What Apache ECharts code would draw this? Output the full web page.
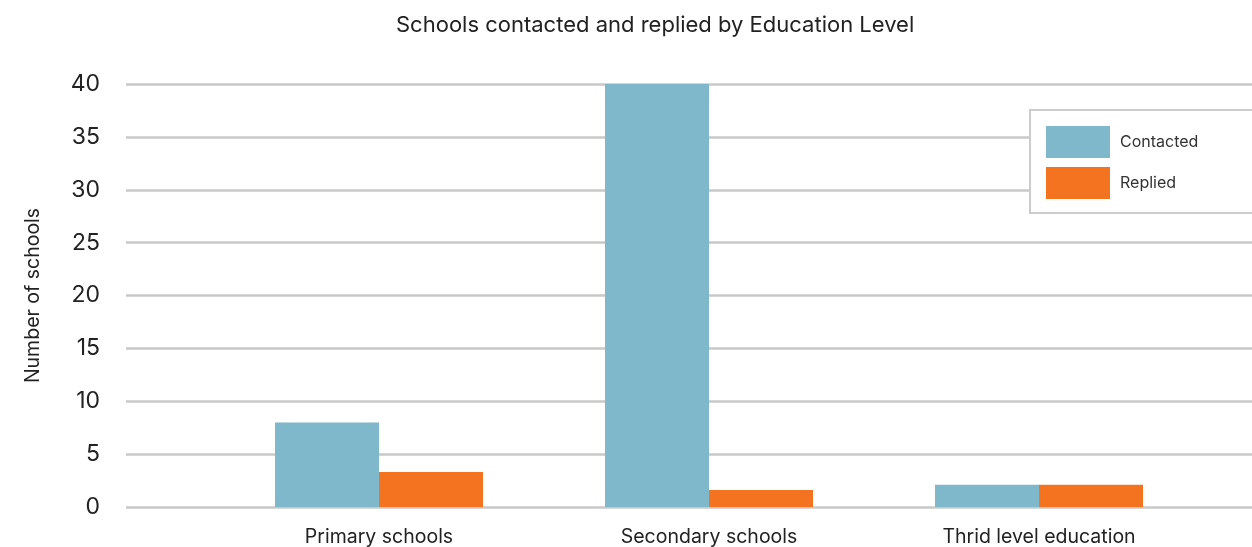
<!DOCTYPE html>
<html>
<head>
<meta charset="utf-8">
<script src="https://cdn.jsdelivr.net/npm/echarts@6/dist/echarts.min.js"></script>
<style>
  html, body { margin: 0; padding: 0; background: #fff; }
  #chart { width: 1252px; height: 547px; }
</style>
</head>
<body>
<div id="chart"></div>
<script>
const categories = ['Primary schools', 'Secondary schools', 'Thrid level education'];
const contacted = [8, 40, 2.1];
const replied = [3.3, 1.6, 2.1];
const seriesNames = ['Contacted', 'Replied'];
const yTicks = { min: 0, max: 40, interval: 5 };

const FONT = 'Inter, "Noto Sans", sans-serif';
const chart = echarts.init(document.getElementById('chart'));

chart.setOption({
  backgroundColor: '#fff',
  animation: false,
  color: ['#7fb8cb', '#f37321'],
  title: {
    text: 'Schools contacted and replied by Education Level',
    left: 391,
    top: 9,
    textStyle: { fontFamily: FONT, fontSize: 22, fontWeight: 'normal', color: '#222' }
  },
  legend: {
    orient: 'vertical',
    left: 1030,
    top: 110,
    data: seriesNames,
    icon: 'rect',
    itemWidth: 64,
    itemHeight: 32,
    itemGap: 9,
    padding: [16, 60, 14, 16],
    backgroundColor: '#fff',
    borderColor: '#cccccc',
    borderWidth: 2,
    textStyle: { fontFamily: FONT, fontSize: 16, color: '#333', padding: [0, 0, 0, 5] },
    z: 10
  },
  grid: [
    // value grid: gridlines span the full plot width
    { left: 126, right: 0, top: 84, bottom: 40, containLabel: false },
    // category grid: bars and labels
    { left: 214, right: 48, top: 84, bottom: 40, containLabel: false }
  ],
  xAxis: [
    { type: 'value', gridIndex: 0, show: false, min: 0, max: 1 },
    {
      type: 'category', gridIndex: 1, data: categories,
      axisLine: { show: false }, axisTick: { show: false },
      axisLabel: { fontFamily: FONT, fontSize: 19.5, color: '#222', margin: 20 }
    }
  ],
  yAxis: [
    {
      type: 'value', gridIndex: 0,
      min: yTicks.min, max: yTicks.max, interval: yTicks.interval,
      name: 'Number of schools',
      nameLocation: 'middle',
      nameGap: 83,
      nameTextStyle: { fontFamily: FONT, fontSize: 19.5, color: '#222' },
      axisLine: { show: false }, axisTick: { show: false },
      axisLabel: { fontFamily: FONT, fontSize: 23, color: '#222', margin: 26 },
      splitLine: { lineStyle: { color: '#c8c8c8', width: 2.5 } }
    },
    {
      type: 'value', gridIndex: 1,
      min: yTicks.min, max: yTicks.max, interval: yTicks.interval,
      show: false, splitLine: { show: false }
    }
  ],
  series: [
    {
      name: seriesNames[0], type: 'bar', xAxisIndex: 1, yAxisIndex: 1,
      data: contacted, barWidth: 104, barGap: '0%'
    },
    {
      name: seriesNames[1], type: 'bar', xAxisIndex: 1, yAxisIndex: 1,
      data: replied, barWidth: 104, barGap: '0%'
    }
  ]
});
</script>
</body>
</html>
